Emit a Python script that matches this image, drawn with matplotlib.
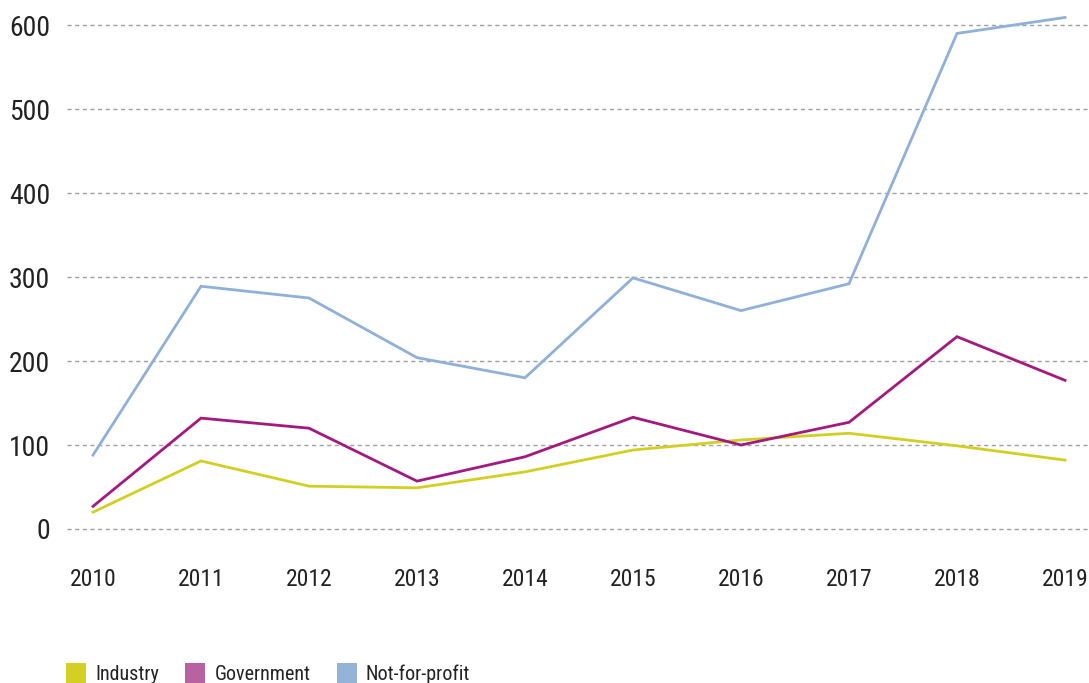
import matplotlib
matplotlib.use("Agg")
import matplotlib.pyplot as plt
from matplotlib.patches import Patch

years = [2010, 2011, 2012, 2013, 2014, 2015, 2016, 2017, 2018, 2019]
industry = [20, 81, 51, 49, 68, 94, 106, 114, 99, 82]
government = [27, 132, 120, 57, 86, 133, 100, 127, 229, 177]
not_for_profit = [88, 289, 275, 204, 180, 299, 260, 292, 590, 609]
series_names = ["Industry", "Government", "Not-for-profit"]
yticks = [0, 100, 200, 300, 400, 500, 600]

line_colors = ["#d3cf22", "#a3197f", "#8fb0d8"]
legend_colors = ["#d4cf23", "#b8639f", "#94b3d9"]

plt.rcParams['font.family'] = ['Roboto Condensed', 'Liberation Sans Narrow', 'Roboto', 'DejaVu Sans']

fig = plt.figure(figsize=(10.89, 6.83), dpi=100)
ax = fig.add_axes([67/1089, (683-540)/683, 1 - 67/1089, 540/683])

for vals, c in zip([industry, government, not_for_profit], line_colors):
    ax.plot(years, vals, color=c, linewidth=2.0, solid_joinstyle='miter', zorder=3)

ax.set_xlim(2010 - 26/108, 2019 + 24/108)
ax.set_ylim(-13.1, 629.8)
ax.set_yticks(yticks)
ax.set_xticks(years)
ax.set_yticklabels([str(v) for v in yticks], fontsize=20, color="#222222")
ax.set_xticklabels([str(v) for v in years], fontsize=17, color="#222222")
ax.tick_params(axis='y', length=0, pad=12)
ax.tick_params(axis='x', length=0, pad=20)
ax.grid(axis='y', color="#a0a0a0", linestyle=(0, (3, 2.5)), linewidth=1.0, zorder=1)
for s in ax.spines.values():
    s.set_visible(False)

handles = [Patch(facecolor=c, edgecolor='none') for c in legend_colors]
fig.legend(handles, series_names, loc='lower left', bbox_to_anchor=(64/1089, -3/683),
           borderaxespad=0, borderpad=0.1,
           ncol=3, frameon=False, fontsize=14.5, handlelength=1.0, handleheight=1.15,
           handletextpad=0.45, columnspacing=1.3, labelcolor="#222222")

fig.savefig("out.png", dpi=100)
